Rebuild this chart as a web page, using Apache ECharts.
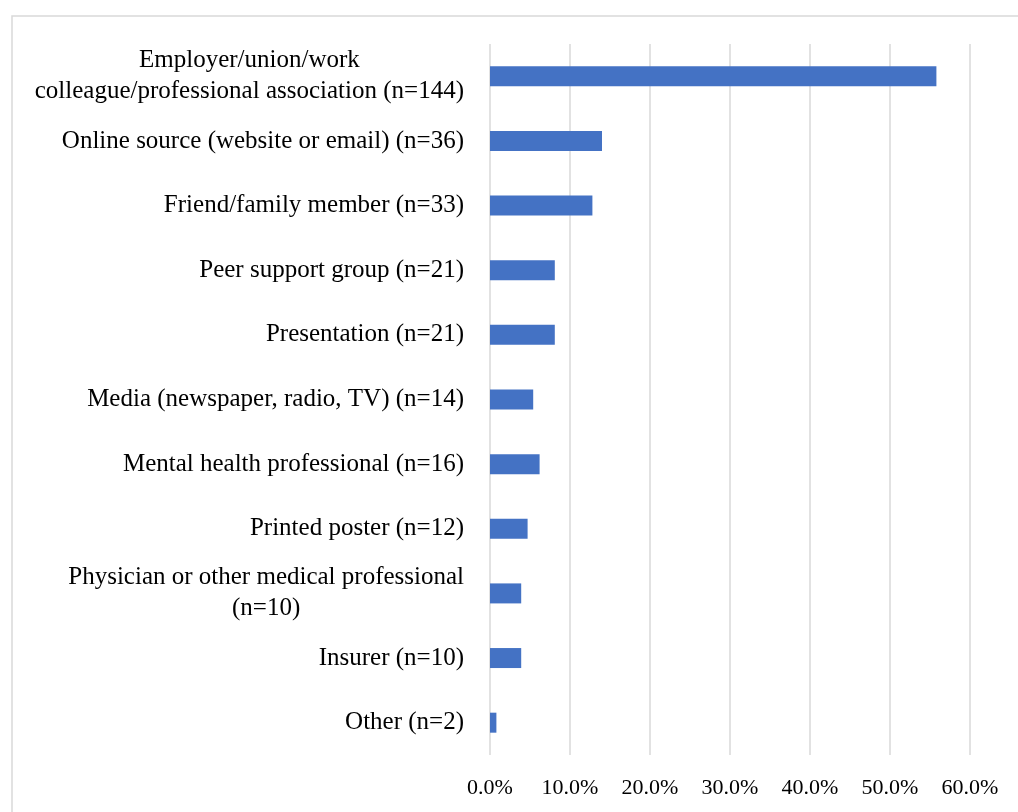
<!DOCTYPE html>
<html lang="en">
<head>
    <meta charset="UTF-8">
    <title>Sources of awareness</title>
    <script type="text/javascript" src="https://cdn.jsdelivr.net/npm/echarts@6/dist/echarts.min.js"></script>
</head>
<body style="margin:0">
<div id="main" style="height: 812px; width: 1018px"></div>
<script>
    // categories, top to bottom
    let categories = [
        'Employer/union/work\ncolleague/professional association (n=144)',
        'Online source (website or email) (n=36)',
        'Friend/family member (n=33)',
        'Peer support group (n=21)',
        'Presentation (n=21)',
        'Media (newspaper, radio, TV) (n=14)',
        'Mental health professional (n=16)',
        'Printed poster (n=12)',
        'Physician or other medical professional\n(n=10)',
        'Insurer (n=10)',
        'Other (n=2)'
    ];
    // share of respondents, %
    let percents = [55.8, 14.0, 12.8, 8.1, 8.1, 5.4, 6.2, 4.7, 3.9, 3.9, 0.8];

    let font = '"Liberation Serif", serif';

    let myChart = echarts.init(document.getElementById('main'));
    let option = {
        backgroundColor: '#fff',
        animation: false,
        graphic: [{
            type: 'rect',
            shape: {x: 12, y: 16, width: 1100, height: 900},
            style: {fill: 'none', stroke: '#d9d9d9', lineWidth: 1.5},
            silent: true
        }],
        grid: {left: 490, right: 48, top: 44, bottom: 57},
        xAxis: {
            type: 'value',
            min: 0,
            max: 60,
            interval: 10,
            axisLine: {show: false},
            axisTick: {show: false},
            splitLine: {lineStyle: {color: '#d9d9d9', width: 1.5}},
            axisLabel: {
                margin: 22,
                fontFamily: font,
                fontSize: 22,
                color: '#000',
                formatter: v => v.toFixed(1) + '%'
            }
        },
        yAxis: {
            type: 'category',
            inverse: true,
            data: categories,
            axisLine: {show: false},
            axisTick: {show: false},
            axisLabel: {
                margin: 26,
                align: 'right',
                formatter: v => v.split('\n').map(l => '{c|' + l + '}').join('\n'),
                rich: {
                    c: {
                        align: 'center',
                        fontFamily: font,
                        fontSize: 25,
                        lineHeight: 31,
                        color: '#000'
                    }
                }
            }
        },
        series: [{
            type: 'bar',
            data: percents,
            barWidth: 20,
            itemStyle: {color: '#4472c4'}
        }]
    };
    myChart.setOption(option);
</script>
</body>
</html>
